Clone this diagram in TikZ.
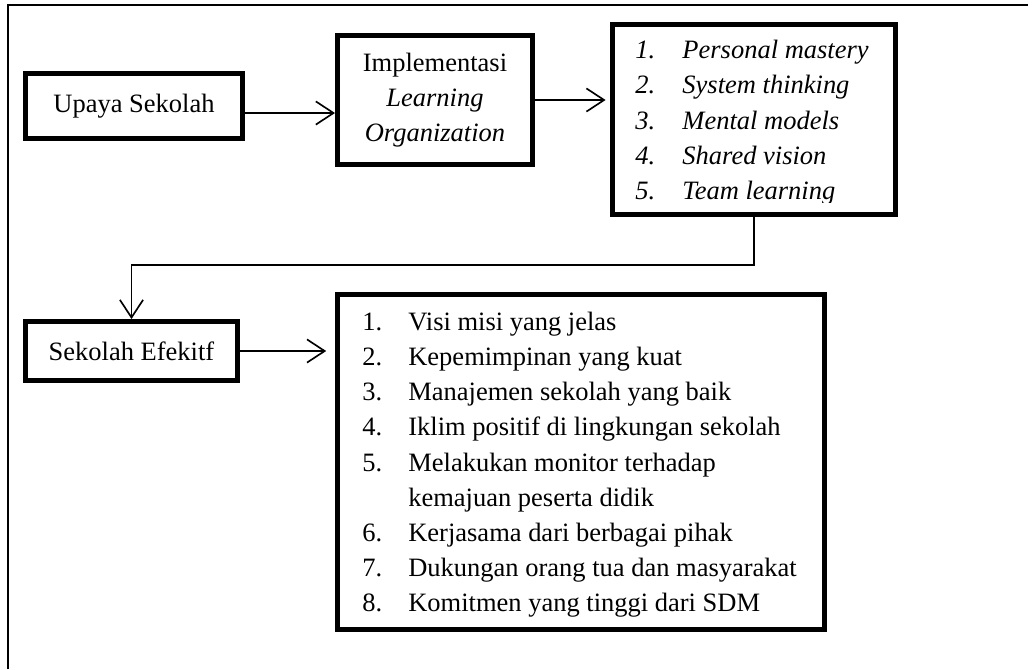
\documentclass[tikz,border=0pt]{standalone}
\usepackage{fontspec}
\setmainfont{Liberation Serif}
\usetikzlibrary{positioning, arrows.meta, calc}
\newcommand{\pxu}{0.453pt}

\begin{document}
\begin{tikzpicture}[x=0.453pt, y=-0.453pt,
    font=\fontsize{12}{15.87}\selectfont,
    box/.style={draw, line width=2.25pt, inner sep=0pt, align=center},
    listtext/.style={anchor=west, inner sep=0pt},
    link/.style={line width=0.75pt, -{Straight Barb[length=8pt, width=10.5pt]}}]
    % Page frame, left and top edge only
    \useasboundingbox (0,0) rectangle (1032,669);
    \coordinate (framebl) at (8,669);
    \coordinate (frametl) at (8,5);
    \coordinate (frametr) at (1028,5);
    \draw[line width=0.6pt] (framebl) -- (frametl) -- (frametr);

    \node[box, minimum width=217*\pxu, minimum height=65*\pxu] (upaya) at (134,106) {Upaya Sekolah};
    \node[box, minimum width=195*\pxu, minimum height=129*\pxu] (impl) at (435,100)
        {Implementasi\\\textit{Learning}\\\textit{Organization}};
    \node[box, minimum width=283*\pxu, minimum height=190*\pxu] (mastery) at (754,119.5) {};
    \begin{scope}
        \clip (612,26) rectangle (896,202);
        \node[listtext, font=\fontsize{12}{15.87}\selectfont\itshape] (masterytxt) at (635,122)
            {\begin{tabular}{@{}p{21.3pt}@{}l@{}}
            1. & Personal mastery\\
            2. & System thinking\\
            3. & Mental models\\
            4. & Shared vision\\
            5. & Team learning
            \end{tabular}};
    \end{scope}

    \node[box, minimum width=212*\pxu, minimum height=59*\pxu] (efektif) at (131.5,351) {Sekolah Efekitf};
    \node[box, minimum width=487*\pxu, minimum height=335*\pxu] (ciri) at (581,462) {};
    \node[listtext] (ciritxt) at (362,464)
        {\begin{tabular}{@{}p{20.8pt}@{}l@{}}
        1. & Visi misi yang jelas\\
        2. & Kepemimpinan yang kuat\\
        3. & Manajemen sekolah yang baik\\
        4. & Iklim positif di lingkungan sekolah\\
        5. & Melakukan monitor terhadap\\
           & kemajuan peserta didik\\
        6. & Kerjasama dari berbagai pihak\\
        7. & Dukungan orang tua dan masyarakat\\
        8. & Komitmen yang tinggi dari SDM
        \end{tabular}};

    \draw[link] (upaya.east |- 0,113) -- (impl.west |- 0,113);
    \draw[link, shorten >=2pt] (impl.east) -- (impl.east -| mastery.west);
    \draw[link] (mastery.south) -- ++(0,48) -| (efektif.north);
    \draw[link, shorten >=4pt] (efektif.east) -- (efektif.east -| ciri.west);
\end{tikzpicture}
\end{document}
